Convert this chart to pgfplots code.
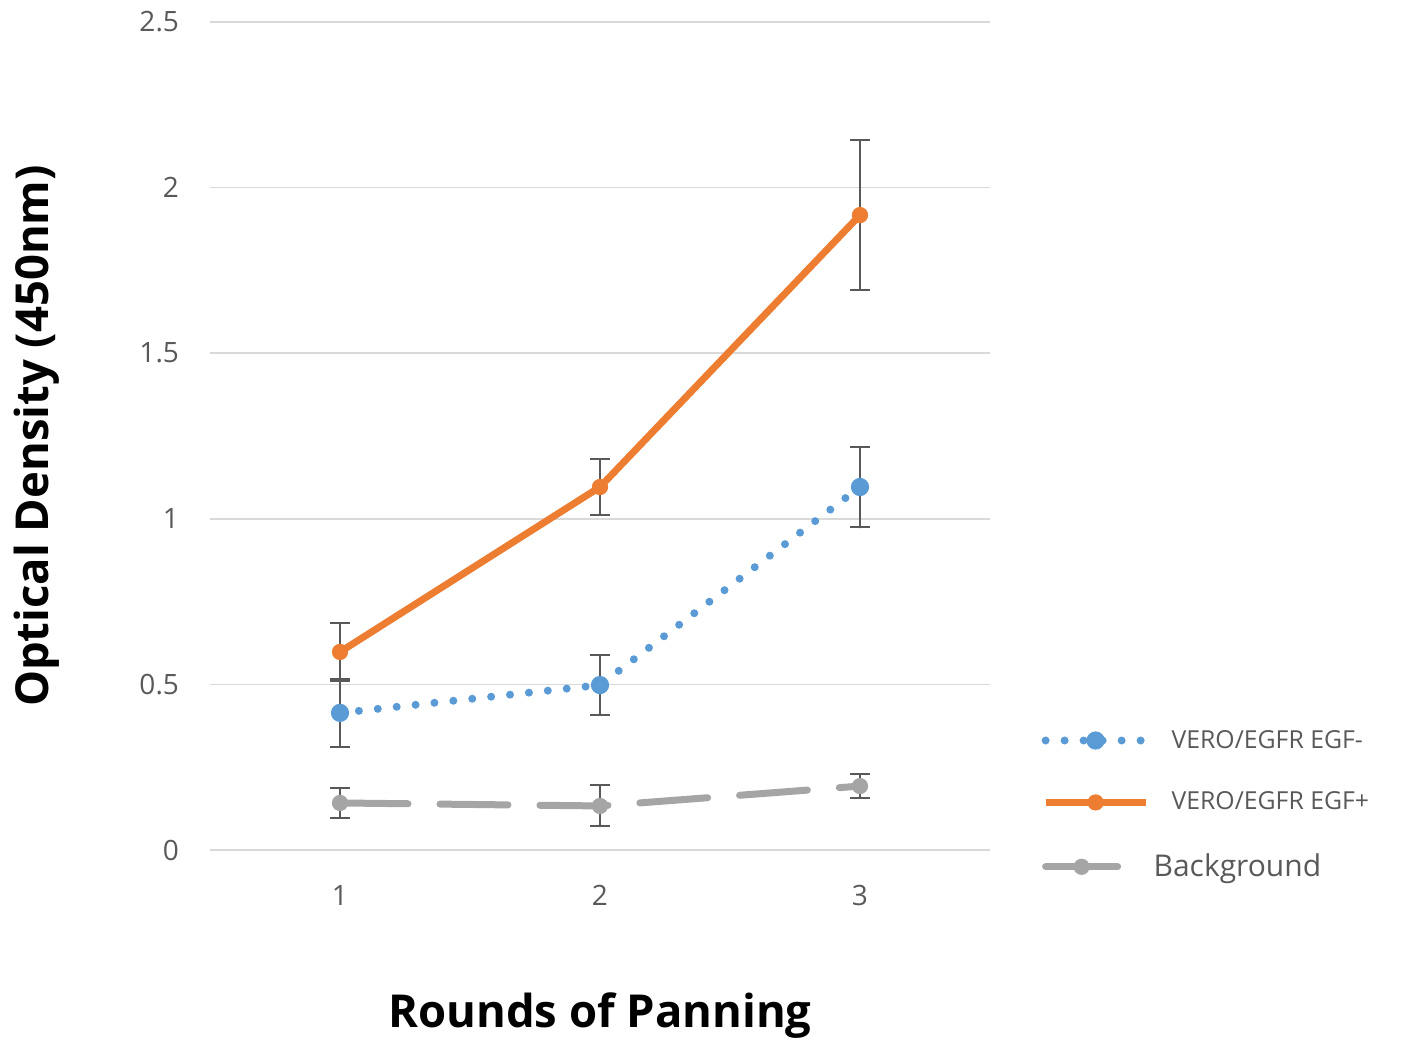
\documentclass[border=0pt]{standalone}
\usepackage{pgfplots}
\pgfplotsset{compat=1.18}
\usepackage{fontspec}
\setmainfont{Open Sans}
\definecolor{cblue}{HTML}{5B9BD5}
\definecolor{corange}{HTML}{ED7D31}
\definecolor{cgray}{HTML}{A5A5A5}
\definecolor{ctext}{HTML}{595959}
\definecolor{cgrid}{HTML}{D9D9D9}
\pgfplotsset{shortlegend/.style={legend image code/.code={\draw[mark repeat=2,mark phase=2,##1,solid] plot coordinates {(0bp,0bp) (18bp,0bp) (36bp,0bp)};}}}
\begin{document}
\begin{tikzpicture}
\path[use as bounding box] (-105bp,-96bp) rectangle (600.5bp,425bp);
\begin{axis}[
  at={(0,0)}, anchor=south west,
  scale only axis, width=390bp, height=414bp,
  xmin=0.5, xmax=3.5, ymin=0, ymax=2.5,
  xtick={1,2,3}, ytick={0,0.5,1,1.5,2,2.5},
  yticklabels={0,0.5,1,1.5,2,2.5},
  /pgf/number format/assume math mode=true,
  axis line style={draw=none},
  major tick length=0pt,
  ymajorgrids, grid style={cgrid, line width=0.8bp},
  tick label style={font=\fontsize{14bp}{16bp}\selectfont, text=ctext},
  yticklabel style={xshift=-12bp},
  xticklabel style={yshift=-14bp},
  xlabel={Rounds of Panning}, ylabel={Optical Density (450nm)},
  label style={font=\fontsize{22.7bp}{26bp}\selectfont\bfseries, text=black},
  xlabel style={at={(axis description cs:0.5,-0.2)}, anchor=center},
  ylabel style={at={(axis description cs:-0.222,0.5)}, anchor=center},
  legend style={at={(axis description cs:1.058,0.155)}, anchor=north west, draw=none, fill=none,
    font=\fontsize{12.4bp}{16bp}\selectfont, text=ctext, row sep=16.5bp},
  legend cell align=left,
  legend image code/.code={\draw[mark repeat=2,mark phase=2,#1] plot coordinates {(0bp,0bp) (25bp,0bp) (50bp,0bp)};},
  error bars/y dir=both, error bars/y explicit,
  error bars/error bar style={ctext, line width=1bp, solid},
  error bars/error mark options={rotate=90, mark size=5bp, ctext, line width=1bp, solid},
]
\addplot[cblue, line width=4bp, line cap=round, dash pattern=on 0pt off 9.5bp,
  mark=*, mark size=4.3bp, mark options={solid, fill=cblue, draw=cblue, line width=0.5bp}]
  coordinates {(1,0.414) +- (0,0.103) (2,0.498) +- (0,0.09) (3,1.096) +- (0,0.122)};
\addlegendentry{\hspace*{9bp}VERO/EGFR EGF-}
\addplot[corange, line width=3.5bp, mark=*, mark size=3.8bp, mark options={solid, fill=corange, draw=corange, line width=0.5bp}]
  coordinates {(1,0.598) +- (0,0.087) (2,1.096) +- (0,0.085) (3,1.917) +- (0,0.226)};
\addlegendentry{\hspace*{9bp}VERO/EGFR EGF+}
\addplot[cgray, line width=3.5bp, line cap=round, dash pattern=on 34bp off 16bp,
  mark=*, mark size=3.8bp, mark options={solid, fill=cgray, draw=cgray, line width=0.5bp},
  shortlegend]
  coordinates {(1,0.142) +- (0,0.046) (2,0.133) +- (0,0.062) (3,0.193) +- (0,0.036)};
\addlegendentry{\fontsize{15bp}{18bp}\selectfont Background}
\end{axis}
\end{tikzpicture}
\end{document}
